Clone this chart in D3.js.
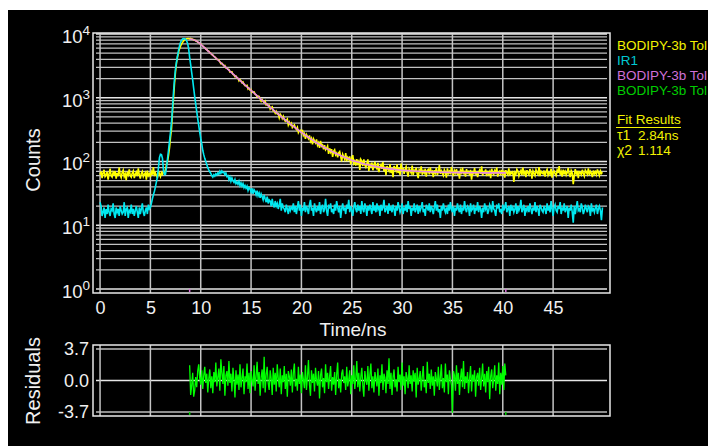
<!DOCTYPE html>
<html>
<head>
<meta charset="utf-8">
<script src="https://cdn.jsdelivr.net/npm/d3@7"></script>
<style>
body { margin: 0; background: #fff; }
svg text { font-family: "Liberation Sans", Arial, sans-serif; }
</style>
</head>
<body>
<div id="chart"></div>
<script>
// channel width of the decay histograms, in ns
const timeStep = 0.1;

// BODIPY-3b in toluene, counts per channel from t = 0
const decayCounts = [
62,70,55,66,74,58,61,69,52,64,77,60,57,68,63,71,54,66,59,80,62,56,67,73,58,64,51,69,62,75,
60,57,66,71,55,63,68,59,78,61,54,65,70,58,63,67,52,72,60,64,57,69,62,82,59,66,61,55,71,64,
58,67,63,70,
66,74,90,100,125,165,240,330,620,1000,1700,2600,3600,4400,5200,5900,6500,7000,7400,7800,
8100,8300,8450,8500,8480,
8390,8500,8290,8310,8050,8060,7800,7760,7440,7360,7050,6960,6640,6530,6210,6110,5800,5720,5440,5360,
5090,5000,4750,4690,4450,4380,
4220,3984,3975,3886,3644,3426,3480,3319,3163,3203,
2934,2922,2788,2768,2535,2560,2556,2322,2288,2147,
2186,2047,2020,1835,1929,1841,1718,1765,1628,1546,
1543,1562,1369,1413,1324,1342,1214,1230,1236,1140,
1116,1032,1063,1052,960,880,938,886,835,883,
772,792,749,762,665,702,722,622,625,572,
612,558,562,484,551,521,472,513,456,428,
440,464,375,412,376,398,342,362,377,335,
317,344,284,305,309,281,314,256,273,227,
264,245,228,257,209,228,185,227,210,196,
222,180,196,164,211,174,182,155,181,152,
160,175,132,161,141,156,118,144,152,127,
135,116,137,143,120,100,130,119,108,135,
101,116,108,120,90,111,126,94,102,86,
109,93,101,74,108,101,85,108,88,81,
91,108,71,93,81,96,73,87,99,82,
77,95,68,83,89,77,98,70,83,61,
85,77,71,91,66,79,57,85,78,71,
90,66,79,61,93,71,
79,64,75,83,68,58,77,72,66,86,
61,73,70,80,64,55,74,69,84,62,71,66,77,58,72,
75,63,81,67,70,57,73,66,79,61,69,88,64,71,65,
60,74,68,56,78,65,70,63,82,67,59,72,66,76,62,69,54,73,67,80,
63,71,58,76,66,69,61,74,52,68,
65,79,62,70,57,67,73,64,84,60,
68,66,75,59,71,63,69,55,77,65,
62,72,67,81,58,66,70,61,74,64,
69,56,73,66,62,78,60,68,65,71,
48,67,63,75,70,59,66,72,61,80,
64,69,57,73,66,62,76,68,54,71,
65,60,74,67,63,82,59,70,66,64,
72,58,69,75,61,67,63,77,56,68,
71,64,60,73,66,85,62,69,58,74,
65,70,61,67,79,63,57,72,66,44,
60,76,64,71,55,69,67,62,74,65,
59,73,68,63,78,61,70,66,57,72,
64,69,62,75,67,60,71,65,68
];

// IR1 instrument response, counts per channel from t = 0
const irfCounts = [
23,20,14,16,19,13,18,15,21,16,14,18,17,22,15,13,19,16,18,14,
20,17,15,16,23,14,18,19,13,17,16,21,15,18,14,17,20,16,13,19,
15,18,22,16,14,17,19,15,21,18,
19,22,26,30,34,40,48,58,80,115,130,128,112,72,
62,63,80,110,150,210,290,420,700,1250,2000,2900,3700,4600,5600,6600,7400,8000,8350,8450,
8400,8250,7800,7100,5900,4300,3300,2500,1900,1400,1050,800,610,470,370,290,230,190,150,128,
112,100,90,80,74,69,65,60,57,62,59,64,61,66,63,70,65,71,67,68,
62,66,58,60,52,57,49,55,50,47,52,45,48,44,49,42,46,41,45,39,
42,38,41,35,39,37,33,38,31,36,34,30,35,29,32,27,31,28,25,30,
26,23,28,22,25,24,20,26,21,19,24,20,22,18,21,26,17,22,19,18,
16,21,18,15,20,17,19,
18,22,16,20,15,19,24,17,21,14,
19,17,23,16,20,18,15,21,25,17,
19,14,22,18,16,20,17,23,15,19,
21,16,18,26,17,14,20,19,22,16,
18,15,21,17,24,19,16,20,13,18,
22,17,19,15,21,18,25,16,20,17,
14,19,23,18,16,21,17,20,15,24,
18,16,22,19,14,20,17,21,18,15,
23,17,19,16,22,18,20,14,21,17,
19,25,16,18,20,15,22,17,19,16,
21,18,14,20,17,23,19,16,18,22,
15,19,17,21,16,24,18,20,14,19,
17,22,16,18,21,15,20,17,19,23,
16,18,14,21,19,17,22,16,20,18,
15,19,24,17,21,16,18,13,20,17,
22,18,16,19,15,21,17,23,18,16,
20,14,19,17,22,18,16,21,15,19,
17,24,18,16,20,19,14,22,17,18,
21,15,19,17,23,16,20,18,13,19,
16,22,18,20,15,17,21,19,16,24,
18,17,14,20,19,22,16,18,15,21,
17,19,23,16,18,20,14,21,17,19,
16,18,22,15,20,17,19,25,16,18,
21,14,19,17,20,16,22,18,15,19,
17,23,16,20,18,14,21,19,17,16,
20,18,15,22,17,19,16,24,18,14,
19,21,17,16,20,18,23,15,19,17,
22,16,18,20,13,19,17,21,16,11,
20,15,19,24,17,18,16,22,19,15,
17,21,18,16,20,19,14,22,17,18,
16,19,21,15,18,20,17,12,19
];

// tail fit (tau1 = 2.84 ns)
const fitTimes = [8.9,9.5,10,10.5,11,11.5,12,12.5,13,13.5,14,14.5,15,15.5,16,16.5,17,17.5,18,18.5,
19,19.5,20,20.5,21,21.5,22,22.5,23,23.5,24,24.5,25,25.5,26,26.5,27,27.5,28,28.5,
29,29.5,30,30.5,31,31.5,32,32.5,33,33.5,34,34.5,35,35.5,36,36.5,37,37.5,38,38.5,
39,39.5,40,40.3];
const fitCounts = [8450,7880,6900,5850,4950,4200,3545,2994,2530,2140,1811,1535,1302,1106,941,803,686,588,505,436,
377,328,286,251,222,197,177,159,144,132,122,113,105,99,94,89.5,86,82.6,80,77.8,
75.9,74.3,73,71.9,71,70.2,69.5,68.9,68.5,68.1,67.8,67.5,67.2,67,66.9,66.7,66.6,66.5,66.4,66.3,
66.3,66.2,66.2,66.2];

// weighted residuals, same channel width, starting at the fit start
const residStart = 8.9;
const residuals = [
1.8,-1.7,-0.6,0.9,-1.9,-1.2,0.4,-0.8,1.1,1.9,
0.3,-0.5,1.2,-1.0,0.6,1.6,-0.3,0.8,-1.4,0.2,
1.3,-0.9,0.5,-1.5,1.0,-0.2,2.1,-0.7,0.4,1.4,
-1.2,2.5,0.9,-0.4,1.7,-1.8,0.6,1.1,-0.6,2.3,
-0.3,0.8,-1.3,1.5,0.1,-2.0,1.2,-0.5,0.7,-1.1,
1.9,-0.8,0.3,1.4,-1.6,0.5,-0.2,2.0,-1.0,0.9,
-1.5,1.1,0.0,-0.7,1.8,-1.2,0.6,2.2,-0.4,1.0,
-1.8,0.4,1.3,-0.9,2.8,-1.4,0.7,1.6,-0.3,-1.1,
1.2,0.2,-1.7,1.5,-0.5,0.9,-1.3,1.9,0.3,-0.8,
1.4,-1.6,0.6,-0.2,1.7,-1.0,0.8,-1.9,1.1,0.5,
-0.6,1.3,-1.4,0.9,2.0,-0.7,0.2,-1.2,1.6,-0.4,
0.7,-1.5,1.0,0.1,-0.9,1.8,-1.1,0.4,2.4,-0.5,
-1.8,1.2,-0.3,0.8,-1.3,1.5,0.0,-0.6,1.1,-2.1,
0.6,1.4,-0.8,0.3,-1.5,1.9,-0.2,0.9,-1.0,0.5,
1.7,-1.2,0.4,-0.5,1.0,-1.7,0.7,2.1,-0.9,0.2,
-1.4,0.8,1.3,-0.3,0.5,-1.1,1.6,-0.7,0.1,1.2,
-1.6,0.6,-0.4,1.8,-1.0,0.3,2.3,-0.8,0.9,-1.3,
0.4,1.5,-0.6,-1.9,1.1,0.0,-0.5,1.7,-1.2,0.7,
2.0,-0.9,0.5,-1.4,1.0,0.2,-0.7,1.4,-1.8,0.6,
-0.3,1.9,-1.1,0.8,0.3,-1.5,1.2,-0.4,2.6,-1.0,
0.9,-1.7,0.4,1.3,-0.8,0.1,-1.3,1.6,-0.2,0.7,
-1.1,2.1,-0.6,0.5,-1.6,1.0,0.3,-0.9,1.8,-0.4,
0.6,-1.3,1.2,-0.1,0.9,-2.0,1.5,-0.5,0.2,1.1,
-1.2,0.4,1.7,-0.8,0.0,-1.5,2.2,-0.3,0.8,-1.0,
1.3,-0.6,0.5,-1.8,1.0,0.2,-0.7,1.6,-1.1,0.4,
1.9,-0.9,0.3,-1.4,2.0,-0.2,0.7,-1.6,1.2,0.1,
-0.5,-3.8,1.1,0.6,-1.2,1.8,-0.4,0.9,-1.7,0.3,
1.4,-0.8,2.3,-1.0,0.5,-0.3,1.0,-1.5,0.2,1.7,
-1.3,0.7,-0.1,1.2,-1.9,0.4,0.9,-0.6,1.5,-1.1,
0.3,2.0,-0.7,0.8,-1.4,1.1,-0.2,1.6,-2.2,0.5,
1.3,-0.9,0.2,1.8,-1.2,0.6,-0.4,2.1,-1.6,0.9,
-0.5,1.7,-1.1,2.0,0.6
];

const xTicks = [0, 5, 10, 15, 20, 25, 30, 35, 40, 45];
const yDecades = [1, 10, 100, 1000, 10000];
const residTicks = [-3.7, 0, 3.7];

const legendNames = ["BODIPY-3b Tol", "IR1", "BODIPY-3b Tol", "BODIPY-3b Tol"];
const legendColors = ["#f2f200", "#00c8d2", "#d070d8", "#00cc00"];
const fitLabels = ["\u03c41", "\u03c72"];
const fitValues = ["2.84ns", "1.114"];

// panel boxes
const main = { left: 93, right: 610, top: 33, bottom: 293 };
const resid = { left: 93, right: 610, top: 345, bottom: 416 };

const svg = d3.select("#chart")
    .append("svg")
    .attr("width", 708)
    .attr("height", 446);

svg.append("rect")
    .attr("x", 8).attr("y", 10)
    .attr("width", 700).attr("height", 436)
    .attr("fill", "#000");

const x = d3.scaleLinear()
    .domain([-0.7, 50.65])
    .range([main.left, main.right]);

const y = d3.scaleLog()
    .domain([1, 10000])
    .range([289, 34]);

const yr = d3.scaleLinear()
    .domain([-3.7, 3.7])
    .range([412, 349]);

// ---- main panel grid
svg.append("g")
    .selectAll("line")
    .data(y.ticks())
    .join("line")
    .attr("x1", main.left + 3)
    .attr("x2", main.right - 3)
    .attr("y1", d => y(d))
    .attr("y2", d => y(d))
    .attr("stroke", d => yDecades.includes(d) ? "#e6e6e6" : "#c2c2c2")
    .attr("stroke-width", 1.3);

svg.append("g")
    .selectAll("line")
    .data(xTicks)
    .join("line")
    .attr("x1", d => x(d))
    .attr("x2", d => x(d))
    .attr("y1", main.top)
    .attr("y2", main.bottom)
    .attr("stroke", "#c4c4c4")
    .attr("stroke-width", 1.5);

svg.append("rect")
    .attr("x", main.left).attr("y", main.top)
    .attr("width", main.right - main.left)
    .attr("height", main.bottom - main.top)
    .attr("fill", "none")
    .attr("stroke", "#e8e8e8")
    .attr("stroke-width", 1.5);

// ---- residual panel grid
svg.append("g")
    .selectAll("line")
    .data(residTicks)
    .join("line")
    .attr("x1", resid.left + 3)
    .attr("x2", resid.right - 3)
    .attr("y1", d => yr(d))
    .attr("y2", d => yr(d))
    .attr("stroke", d => d === 0 ? "#e6e6e6" : "#8c8c8c")
    .attr("stroke-width", d => d === 0 ? 1.5 : 2);

svg.append("g")
    .selectAll("line")
    .data(xTicks)
    .join("line")
    .attr("x1", d => x(d))
    .attr("x2", d => x(d))
    .attr("y1", resid.top)
    .attr("y2", resid.bottom)
    .attr("stroke", "#c4c4c4")
    .attr("stroke-width", 1.5);

svg.append("rect")
    .attr("x", resid.left).attr("y", resid.top)
    .attr("width", resid.right - resid.left)
    .attr("height", resid.bottom - resid.top)
    .attr("fill", "none")
    .attr("stroke", "#e8e8e8")
    .attr("stroke-width", 1.5);

// ---- axes (labels only, the grid does the rest)
function styleAxis(g, size) {
    g.select(".domain").remove();
    g.attr("font-family", null).attr("font-size", size);
    g.selectAll("text").attr("fill", "#f0f0f0");
}

svg.append("g")
    .attr("transform", `translate(0, ${main.bottom})`)
    .call(d3.axisBottom(x).tickValues(xTicks).tickSize(0).tickPadding(8))
    .call(g => styleAxis(g, 18));

svg.append("g")
    .attr("transform", `translate(${main.left}, 0)`)
    .call(d3.axisLeft(y).tickValues(yDecades).tickSize(0).tickPadding(3).tickFormat(""))
    .call(g => styleAxis(g, 18.5))
    .selectAll("text")
    .attr("dy", "0.45em")
    .each(function (d) {
        const t = d3.select(this);
        t.text("10");
        t.append("tspan")
            .attr("dy", -8)
            .attr("font-size", 13.5)
            .text(Math.round(Math.log10(d)));
    });

svg.append("g")
    .attr("transform", `translate(${resid.left}, 0)`)
    .call(d3.axisLeft(yr).tickValues(residTicks).tickSize(0).tickPadding(4)
        .tickFormat(d => d.toFixed(1)))
    .call(g => styleAxis(g, 18));

svg.append("text")
    .attr("x", 353).attr("y", 336)
    .attr("text-anchor", "middle")
    .attr("font-size", 19)
    .attr("fill", "#f0f0f0")
    .text("Time/ns");

svg.append("text")
    .attr("transform", "translate(40, 160) rotate(-90)")
    .attr("text-anchor", "middle")
    .attr("font-size", 20)
    .attr("fill", "#f0f0f0")
    .text("Counts");

svg.append("text")
    .attr("transform", "translate(40, 381) rotate(-90)")
    .attr("text-anchor", "middle")
    .attr("font-size", 20)
    .attr("fill", "#f0f0f0")
    .text("Residuals");

// ---- data
const decay = decayCounts.map((c, i) => ({ t: i * timeStep, c: c }));
const irf = irfCounts.map((c, i) => ({ t: i * timeStep, c: c }));
const fit = fitTimes.map((t, i) => ({ t: t, c: fitCounts[i] }));
const res = residuals.map((r, i) => ({ t: residStart + i * timeStep, r: r }));

const countLine = d3.line()
    .x(d => x(d.t))
    .y(d => y(d.c));

svg.append("path")
    .datum(decay)
    .attr("d", countLine)
    .attr("fill", "none")
    .attr("stroke", "#ffff00")
    .attr("stroke-width", 1.6);

svg.append("path")
    .datum(irf)
    .attr("d", countLine)
    .attr("fill", "none")
    .attr("stroke", "#00e8f0")
    .attr("stroke-width", 1.6);

svg.append("path")
    .datum(fit)
    .attr("d", countLine.curve(d3.curveMonotoneX))
    .attr("fill", "none")
    .attr("stroke", "#e888e0")
    .attr("stroke-width", 1.6);

svg.append("path")
    .datum(res)
    .attr("d", d3.line().x(d => x(d.t)).y(d => yr(d.r)))
    .attr("fill", "none")
    .attr("stroke", "#00ff00")
    .attr("stroke-width", 1.3);

// fit range markers
const fitRange = [fitTimes[0], fitTimes[fitTimes.length - 1]];
svg.append("g")
    .selectAll("line")
    .data(fitRange)
    .join("line")
    .attr("x1", d => x(d)).attr("x2", d => x(d))
    .attr("y1", 289).attr("y2", 292)
    .attr("stroke", "#e070e0").attr("stroke-width", 1.5);

svg.append("g")
    .selectAll("line")
    .data(fitRange)
    .join("line")
    .attr("x1", d => x(d)).attr("x2", d => x(d))
    .attr("y1", 412).attr("y2", 415)
    .attr("stroke", "#00cc00").attr("stroke-width", 1.5);

// ---- legend and fit results
svg.append("g")
    .selectAll("text")
    .data(legendNames)
    .join("text")
    .attr("x", 617)
    .attr("y", (d, i) => 50 + i * 15)
    .attr("font-size", 13.5)
    .attr("fill", (d, i) => legendColors[i])
    .text(d => d);

svg.append("text")
    .attr("x", 617).attr("y", 124)
    .attr("font-size", 13.5)
    .attr("fill", "#f2f200")
    .text("Fit Results");

svg.append("line")
    .attr("x1", 616).attr("x2", 681)
    .attr("y1", 127.5).attr("y2", 127.5)
    .attr("stroke", "#f2f200")
    .attr("stroke-width", 1);

fitLabels.forEach((lab, i) => {
    svg.append("text")
        .attr("x", 617).attr("y", 140 + i * 15)
        .attr("font-size", 14)
        .attr("font-family", "'Liberation Serif', 'DejaVu Serif', serif")
        .attr("fill", "#f2f200")
        .text(lab);
    svg.append("text")
        .attr("x", 638).attr("y", 140 + i * 15)
        .attr("font-size", 13.5)
        .attr("fill", "#f2f200")
        .text(fitValues[i]);
});
</script>
</body>
</html>
